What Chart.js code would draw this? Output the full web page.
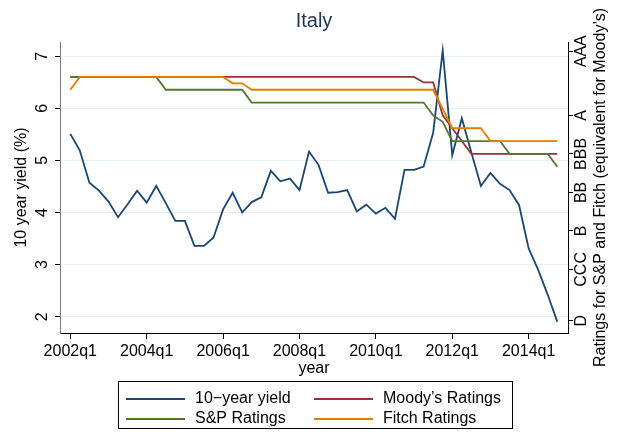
<!DOCTYPE html>
<html>
<head>
<meta charset="utf-8">
<script src="https://cdn.jsdelivr.net/npm/chart.js@4.4.0/dist/chart.umd.min.js"></script>
<style>
html, body { margin: 0; padding: 0; background: #fff; }
</style>
</head>
<body>
<canvas id="italyChart" width="622" height="437"></canvas>
<script>
// quarters 2002q1 .. 2014q4
const quarters = [];
for (let y = 2002; y <= 2014; y++) {
    for (let q = 1; q <= 4; q++) quarters.push(y + 'q' + q);
}

// 10 year yield (%)
const yield10 = [
    5.51, 5.19, 4.57, 4.42, 4.21, 3.91, 4.16, 4.42, 4.19, 4.51,
    4.18, 3.84, 3.84, 3.36, 3.36, 3.52, 4.06, 4.38, 4.00, 4.20,
    4.29, 4.80, 4.60, 4.65, 4.43, 5.17, 4.91, 4.38, 4.39, 4.43,
    4.02, 4.15, 3.98, 4.09, 3.88, 4.82, 4.82, 4.88, 5.53, 7.11,
    5.10, 5.81, 5.15, 4.51, 4.76, 4.55, 4.43, 4.14, 3.31, 2.90,
    2.42, 1.90
];

// ratings in notches (D = 0 ... AAA = 21)
const moodys = [
    19, 19, 19, 19, 19, 19, 19, 19, 19, 19,
    19, 19, 19, 19, 19, 19, 19, 19, 19, 19,
    19, 19, 19, 19, 19, 19, 19, 19, 19, 19,
    19, 19, 19, 19, 19, 19, 19, 18.57, 18.57, 16,
    15, 14, 13, 13, 13, 13, 13, 13, 13, 13,
    13, 13
];
const sp = [
    19, 19, 19, 19, 19, 19, 19, 19, 19, 19,
    18, 18, 18, 18, 18, 18, 18, 18, 18, 17,
    17, 17, 17, 17, 17, 17, 17, 17, 17, 17,
    17, 17, 17, 17, 17, 17, 17, 17, 16, 15.5,
    14, 14, 14, 14, 14, 14, 13, 13, 13, 13,
    13, 12
];
const fitch = [
    18, 19, 19, 19, 19, 19, 19, 19, 19, 19,
    19, 19, 19, 19, 19, 19, 19, 18.5, 18.5, 18,
    18, 18, 18, 18, 18, 18, 18, 18, 18, 18,
    18, 18, 18, 18, 18, 18, 18, 18, 18, 16.5,
    15, 15, 15, 15, 14, 14, 14, 14, 14, 14,
    14, 14
];

const xTickLabels = ['2002q1', '2004q1', '2006q1', '2008q1', '2010q1', '2012q1', '2014q1'];
const yTicks = [2, 3, 4, 5, 6, 7];
const ratingLabels = ['D', 'CCC', 'B', 'BB', 'BBB', 'A', 'AAA'];
const ratingScores = [0, 4, 7, 10, 13, 16, 21];

const FONT = '"Liberation Sans", Arial, Helvetica, sans-serif';
Chart.defaults.font.family = FONT;

const toPoints = arr => arr.map((v, i) => ({ x: i, y: v }));

// Stata style texts: title, rotated tick labels, axis titles, boxed legend
const stataText = {
    id: 'stataText',
    afterDraw(chart) {
        const { ctx, chartArea, scales } = chart;
        const midX = (chartArea.left + chartArea.right) / 2;
        const midY = (chartArea.top + chartArea.bottom) / 2;
        ctx.save();
        ctx.textAlign = 'center';
        ctx.textBaseline = 'middle';

        ctx.fillStyle = '#1e3450';
        ctx.font = '20px ' + FONT;
        ctx.fillText('Italy', midX, 21);

        ctx.fillStyle = '#000';
        ctx.font = '16px ' + FONT;
        const rotText = (txt, x, y) => {
            ctx.save();
            ctx.translate(x, y);
            ctx.rotate(-Math.PI / 2);
            ctx.fillText(txt, 0, 0);
            ctx.restore();
        };
        yTicks.forEach(v => rotText(String(v), 43, scales.y.getPixelForValue(v)));
        ratingScores.forEach((v, i) => rotText(ratingLabels[i], 582, scales.y2.getPixelForValue(v)));
        rotText('10 year yield (%)', 22, midY);
        rotText('Ratings for S&P and Fitch (equivalent for Moody\u2019s)', 601, midY);
        ctx.fillText('year', midX, 369);

        // legend
        ctx.strokeStyle = '#000';
        ctx.lineWidth = 1;
        ctx.strokeRect(118.5, 381.5, 394, 47);
        const ds = chart.data.datasets;
        const slots = [[126, 399], [314, 399], [126, 419], [314, 419]];
        ctx.textAlign = 'left';
        ds.forEach((d, i) => {
            const [sx, sy] = slots[i];
            ctx.strokeStyle = d.borderColor;
            ctx.lineWidth = 1.8;
            ctx.beginPath();
            ctx.moveTo(sx, sy);
            ctx.lineTo(sx + 59, sy);
            ctx.stroke();
            ctx.fillStyle = '#000';
            ctx.fillText(d.label, sx + 69, sy);
        });
        ctx.restore();
    }
};

new Chart(document.getElementById('italyChart'), {
    type: 'line',
    data: {
        datasets: [
            { label: '10\u2212year yield', data: toPoints(yield10), yAxisID: 'y', borderColor: '#1a476f', order: 4 },
            { label: 'Moody\u2019s Ratings', data: toPoints(moodys), yAxisID: 'y2', borderColor: '#90353b', order: 3 },
            { label: 'S&P Ratings', data: toPoints(sp), yAxisID: 'y2', borderColor: '#55752f', order: 2 },
            { label: 'Fitch Ratings', data: toPoints(fitch), yAxisID: 'y2', borderColor: '#e37e00', order: 1 }
        ]
    },
    options: {
        responsive: false,
        animation: false,
        devicePixelRatio: 1,
        layout: { padding: { top: 42, left: 0, right: 0, bottom: 0 } },
        elements: {
            line: { borderWidth: 1.8, tension: 0, fill: false },
            point: { radius: 0 }
        },
        plugins: {
            legend: { display: false },
            tooltip: { enabled: false }
        },
        scales: {
            x: {
                type: 'linear',
                min: -1.078,
                max: 52.12,
                afterBuildTicks: s => { s.ticks = xTickLabels.map(l => ({ value: quarters.indexOf(l) })); },
                afterFit: s => { s.height = 104; },
                ticks: {
                    callback: v => quarters[v],
                    color: '#000',
                    font: { size: 16 },
                    padding: 3,
                    maxRotation: 0,
                    autoSkip: false
                },
                grid: { drawOnChartArea: false, tickLength: 6, tickColor: '#000' },
                border: { color: '#000' }
            },
            y: {
                position: 'left',
                min: 1.687,
                max: 7.273,
                afterBuildTicks: s => { s.ticks = yTicks.map(v => ({ value: v })); },
                afterFit: s => { s.width = 60; },
                ticks: { display: false },
                grid: { color: '#e8eff0', tickLength: 5, tickColor: '#000' },
                border: { color: '#777' }
            },
            y2: {
                position: 'right',
                min: -0.959,
                max: 21.72,
                afterBuildTicks: s => { s.ticks = ratingScores.map(v => ({ value: v })); },
                afterFit: s => { s.width = 54; },
                ticks: { display: false },
                grid: { drawOnChartArea: false, tickLength: 5, tickColor: '#000' },
                border: { color: '#000' }
            }
        }
    },
    plugins: [stataText]
});
</script>
</body>
</html>
